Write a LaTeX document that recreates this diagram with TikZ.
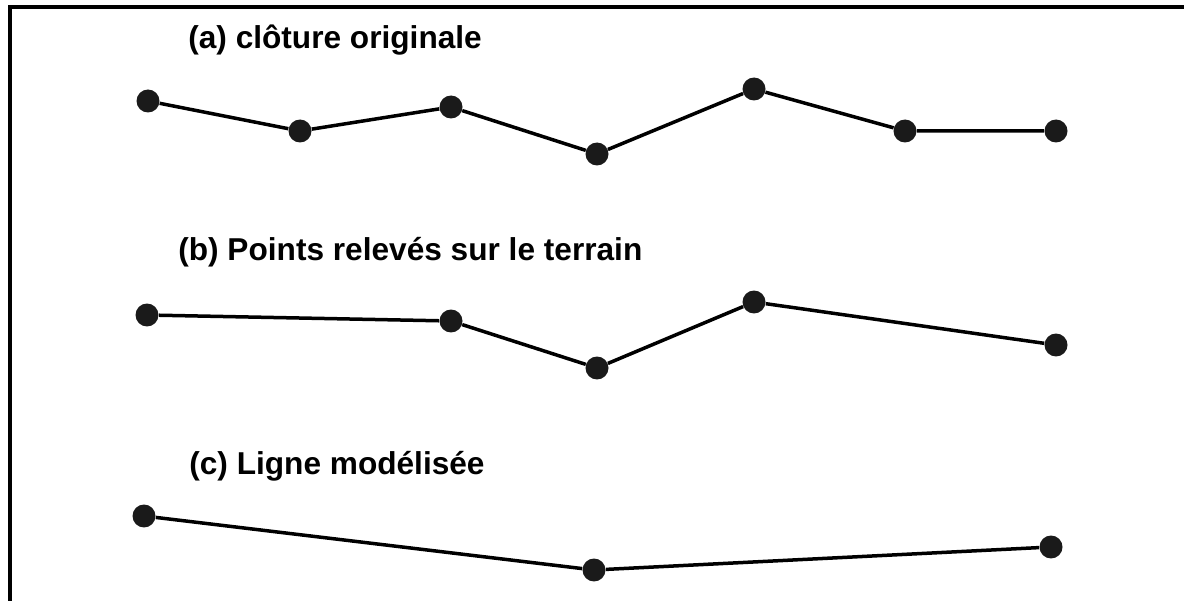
\documentclass[tikz,border=0pt]{standalone}
\usepackage{fontspec}
\setmainfont{Liberation Sans}
\definecolor{dotgray}{HTML}{1A1A1A}
\tikzset{
    pt/.style={circle, fill=dotgray, inner sep=0pt, minimum size=0.46cm},
    fence/.style={line width=0.07cm, black},
    caption/.style={anchor=west, inner sep=0pt, font=\fontsize{18}{22}\selectfont\bfseries}
}
\begin{document}
\begin{tikzpicture}[x=0.02cm, y=-0.02cm]
    % Page and frame: only the top and left sides
    \fill[white] (0,0) rectangle (1184,601);
    \useasboundingbox (0,0) rectangle (1184,601);
    \draw[line width=0.08cm] (10,601) -- (10,7) -- (1184,7);

    % Titles
    \node[caption] (ta) at (188,40) {(a) clôture originale};
    \node[caption] (tb) at (178,252) {(b) Points relevés sur le terrain};
    \node[caption] (tc) at (189,466) {(c) Ligne modélisée};

    % (a) original fence
    \foreach \x/\y [count=\i] in {148/101, 300/131, 451/107, 597/154, 754/89, 905/131, 1056/131}
        \node[pt] (a\i) at (\x,\y) {};
    \draw[fence] (a1) -- (a2) -- (a3) -- (a4) -- (a5) -- (a6) -- (a7);

    % (b) surveyed points
    \foreach \x/\y [count=\i] in {147/315, 451/321, 597/368, 754/302, 1056/345}
        \node[pt] (b\i) at (\x,\y) {};
    \draw[fence] (b1) -- (b2) -- (b3) -- (b4) -- (b5);

    % (c) modelled line
    \foreach \x/\y [count=\i] in {144/516, 594/570, 1051/547}
        \node[pt] (c\i) at (\x,\y) {};
    \draw[fence] (c1) -- (c2) -- (c3);
\end{tikzpicture}
\end{document}
